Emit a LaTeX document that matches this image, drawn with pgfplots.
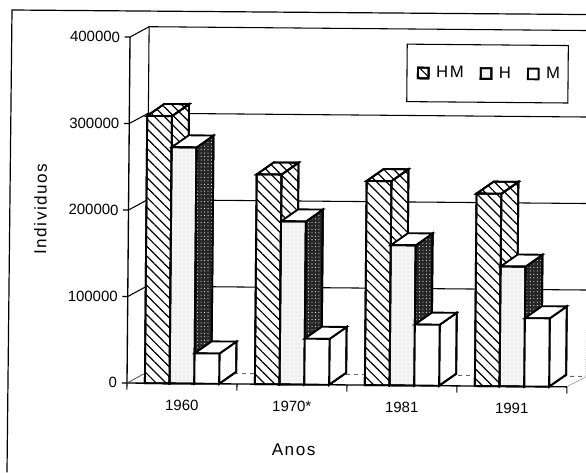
\documentclass[border=0pt]{standalone}
\usepackage{fontspec}
\setmainfont{Liberation Sans}
\usepackage{pgfplots}
\pgfplotsset{compat=1.18}
\usetikzlibrary{patterns.meta}
\tikzset{
  hatch/.style={preaction={fill=white},pattern={Lines[angle=-45,distance=5.2pt,line width=0.9pt]}},
  lightdots/.style={preaction={fill=black!4},pattern={Dots[distance=3pt,radius=0.25pt]},pattern color=black!45},
  faintdots/.style={preaction={fill=white},pattern={Dots[distance=4pt,radius=0.2pt]},pattern color=black!35},
  darkdots/.style={preaction={fill=black!85},pattern={Dots[distance=2.6pt,radius=0.4pt]},pattern color=white},
}
\begin{document}
\begin{tikzpicture}[line cap=round]
\useasboundingbox (0pt,-354pt) rectangle (439.5pt,0pt);
\draw[line width=0.9pt] (439.5pt,-10.9pt) -- (9pt,-7.5pt) -- (5.25pt,-354pt);
\begin{scope}[rotate around={-0.5:(95.25pt,-287.25pt)}]
\begin{axis}[
  at={(95.25pt,-287.25pt)},anchor=south west,
  scale only axis,width=330pt,height=259.5pt,
  xmin=0,xmax=4,ymin=0,ymax=400000,
  clip=false,
  scaled y ticks=false,
  axis x line*=bottom,axis y line*=left,
  axis line style={line width=1pt,-},
  xtick={0.5,1.5,2.5,3.5},xticklabels={1960,1970*,1981,1991},
  minor xtick={0,1,2,3,4},
  major x tick style={draw=none},
  minor tick style={black,line width=0.8pt},
  minor tick length=5pt,
  tick align=outside,
  ytick={0,100000,200000,300000,400000},
  yticklabels={0,100000,200000,300000,400000},
  ytick style={black,line width=0.8pt},
  major tick length=4pt,
  tick label style={font=\fontsize{11.2}{12}\selectfont},
  x tick label style={yshift=-5pt},
  xlabel={\addfontfeatures{LetterSpace=9}Anos},
  ylabel={\addfontfeatures{LetterSpace=9}Individuos},
  label style={font=\fontsize{12.8}{14}\selectfont},
  xlabel style={at={(axis description cs:0.38,-0.188)},anchor=center},
  ylabel style={at={(axis description cs:-0.2,0.5)},anchor=center},
  legend style={at={(axis description cs:0.629,0.988)},anchor=north west,draw=black,line width=0.8pt,
    font=\fontsize{12.5}{14}\selectfont\addfontfeatures{LetterSpace=10},inner xsep=4pt,inner ysep=14.5pt,
    /tikz/every even column/.append style={column sep=6.5pt},
    /tikz/every odd column/.append style={column sep=3pt}},
  legend columns=3,
  legend cell align=left,
  legend image code/.code={\path (0pt,0pt);\draw[#1,line width=1.4pt,solid] (3.5pt,-4pt) rectangle (11.5pt,4pt);},
]
% back wall
\addplot[forget plot,line width=0.8pt] coordinates {(0.1727,12140)(0.1727,412140)(4.1727,412140)};
\addplot[forget plot,line width=0.7pt,black!60,densely dotted] coordinates {(4.1727,412140)(4.1727,12140)(4,0)};
\addplot[forget plot,line width=0.8pt] coordinates {(0,400000)(0.1727,412140)};
\addplot[forget plot,line width=0.8pt] coordinates {(0,300000)(0.1727,312140)};
\addplot[forget plot,line width=0.8pt] coordinates {(0,200000)(0.1727,212140)};
\addplot[forget plot,line width=0.8pt] coordinates {(0,100000)(0.1727,112140)};
\addplot[forget plot,line width=0.6pt,black!70] coordinates {(0,0)(0.1727,12140)};
\addplot[forget plot,line width=0.8pt] coordinates {(0.1727,312140)(4.1727,312140)};
\addplot[forget plot,line width=0.8pt] coordinates {(0.1727,212140)(4.1727,212140)};
\addplot[forget plot,line width=0.8pt] coordinates {(0.1727,112140)(4.1727,112140)};
\addplot[forget plot,line width=0.7pt,black!60,dashed] coordinates {(0.1727,12140)(4.1727,12140)};
% HM
\addplot[forget plot,hatch,line width=1.4pt] coordinates {(0.3875,0)(0.542,14000)(0.542,323000)(0.3875,309000)} -- cycle;
\addplot[forget plot,hatch,line width=1.4pt] coordinates {(0.1625,309000)(0.317,323000)(0.542,323000)(0.3875,309000)} -- cycle;
\addplot[forget plot,hatch,line width=1.4pt] coordinates {(1.3875,0)(1.542,14000)(1.542,256500)(1.3875,242500)} -- cycle;
\addplot[forget plot,hatch,line width=1.4pt] coordinates {(1.1625,242500)(1.317,256500)(1.542,256500)(1.3875,242500)} -- cycle;
\addplot[forget plot,hatch,line width=1.4pt] coordinates {(2.3875,0)(2.542,14000)(2.542,250000)(2.3875,236000)} -- cycle;
\addplot[forget plot,hatch,line width=1.4pt] coordinates {(2.1625,236000)(2.317,250000)(2.542,250000)(2.3875,236000)} -- cycle;
\addplot[forget plot,hatch,line width=1.4pt] coordinates {(3.3875,0)(3.542,14000)(3.542,236500)(3.3875,222500)} -- cycle;
\addplot[forget plot,hatch,line width=1.4pt] coordinates {(3.1625,222500)(3.317,236500)(3.542,236500)(3.3875,222500)} -- cycle;
\addplot[ybar,bar width=18.56pt,bar shift=-18.56pt,hatch,line width=1.4pt] coordinates {(0.5,309000)(1.5,242500)(2.5,236000)(3.5,222500)};
\addlegendentry{HM}
% H
\addplot[forget plot,darkdots,line width=1.4pt] coordinates {(0.6125,0)(0.767,14000)(0.767,287000)(0.6125,273000)} -- cycle;
\addplot[forget plot,fill=white,line width=1.4pt] coordinates {(0.3875,273000)(0.542,287000)(0.767,287000)(0.6125,273000)} -- cycle;
\addplot[forget plot,darkdots,line width=1.4pt] coordinates {(1.6125,0)(1.767,14000)(1.767,202500)(1.6125,188500)} -- cycle;
\addplot[forget plot,fill=white,line width=1.4pt] coordinates {(1.3875,188500)(1.542,202500)(1.767,202500)(1.6125,188500)} -- cycle;
\addplot[forget plot,darkdots,line width=1.4pt] coordinates {(2.6125,0)(2.767,14000)(2.767,176000)(2.6125,162000)} -- cycle;
\addplot[forget plot,fill=white,line width=1.4pt] coordinates {(2.3875,162000)(2.542,176000)(2.767,176000)(2.6125,162000)} -- cycle;
\addplot[forget plot,darkdots,line width=1.4pt] coordinates {(3.6125,0)(3.767,14000)(3.767,152500)(3.6125,138500)} -- cycle;
\addplot[forget plot,fill=white,line width=1.4pt] coordinates {(3.3875,138500)(3.542,152500)(3.767,152500)(3.6125,138500)} -- cycle;
\addplot[ybar,bar width=18.56pt,bar shift=0pt,lightdots,line width=1.4pt] coordinates {(0.5,273000)(1.5,188500)(2.5,162000)(3.5,138500)};
\addlegendentry{H}
% M
\addplot[forget plot,faintdots,line width=1.4pt] coordinates {(0.8375,0)(0.992,14000)(0.992,49000)(0.8375,35000)} -- cycle;
\addplot[forget plot,fill=white,line width=1.4pt] coordinates {(0.6125,35000)(0.767,49000)(0.992,49000)(0.8375,35000)} -- cycle;
\addplot[forget plot,faintdots,line width=1.4pt] coordinates {(1.8375,0)(1.992,14000)(1.992,67000)(1.8375,53000)} -- cycle;
\addplot[forget plot,fill=white,line width=1.4pt] coordinates {(1.6125,53000)(1.767,67000)(1.992,67000)(1.8375,53000)} -- cycle;
\addplot[forget plot,faintdots,line width=1.4pt] coordinates {(2.8375,0)(2.992,14000)(2.992,84500)(2.8375,70500)} -- cycle;
\addplot[forget plot,fill=white,line width=1.4pt] coordinates {(2.6125,70500)(2.767,84500)(2.992,84500)(2.8375,70500)} -- cycle;
\addplot[forget plot,faintdots,line width=1.4pt] coordinates {(3.8375,0)(3.992,14000)(3.992,93000)(3.8375,79000)} -- cycle;
\addplot[forget plot,fill=white,line width=1.4pt] coordinates {(3.6125,79000)(3.767,93000)(3.992,93000)(3.8375,79000)} -- cycle;
\addplot[ybar,bar width=18.56pt,bar shift=18.56pt,fill=white,line width=1.4pt] coordinates {(0.5,35000)(1.5,53000)(2.5,70500)(3.5,79000)};
\addlegendentry{M}
\end{axis}
\end{scope}
\end{tikzpicture}
\end{document}
